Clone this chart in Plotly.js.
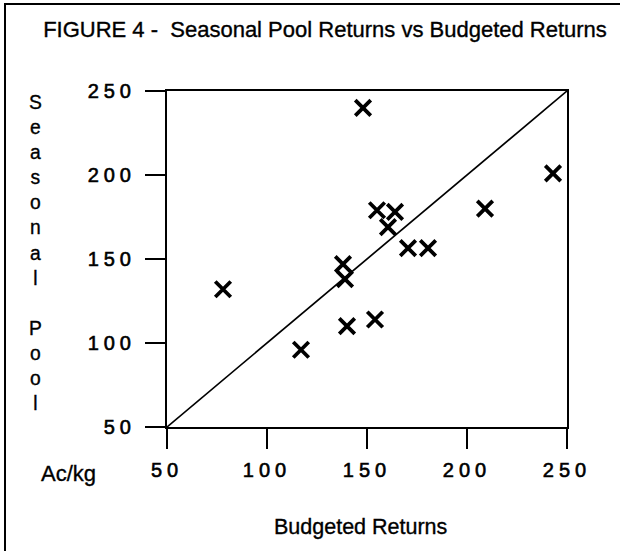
<!DOCTYPE html>
<html>
<head>
<meta charset="utf-8">
<script src="https://cdn.plot.ly/plotly-3.0.1.min.js"></script>
<style>
  html, body { margin: 0; padding: 0; background: #fff; }
  #wrap { position: relative; width: 620px; height: 551px; }
  #chart { width: 620px; height: 551px; }
  #frame { position: absolute; left: 4px; top: 3px; right: 0; bottom: 0;
           border-left: 2px solid #000; border-top: 2px solid #000; pointer-events: none; }
  .xtick text, .ytick text { letter-spacing: 5px; stroke: #000; stroke-width: 0.6px; }
  .gtitle, .annotation-text { stroke: #000; stroke-width: 0.35px; }
</style>
</head>
<body>
<div id="wrap">
  <div id="chart"></div>
  <div id="frame"></div>
</div>
<script>
// Budgeted returns (x) vs seasonal pool returns (y), c/kg
const budgeted = [148, 243, 209, 155, 164, 160.5, 170.5, 180.5, 138, 139, 78, 154, 140, 117];
const seasonal = [240, 201, 180, 179, 178, 169, 156.5, 156.5, 147, 138, 132, 114, 110, 96];
// 1:1 reference line
const refX = [50, 250];
const refY = [50, 250];
const tickVals = [50, 100, 150, 200, 250];
const tickText = ['50', '100', '150', '200', '250'];

const FONT = 'Liberation Sans, Arial, Helvetica, sans-serif';

const traces = [
  {
    x: refX, y: refY, type: 'scatter', mode: 'lines',
    line: { color: '#000', width: 1.7 }, hoverinfo: 'skip', showlegend: false
  },
  {
    x: budgeted, y: seasonal, type: 'scatter', mode: 'markers',
    marker: { symbol: 'x-thin-open', size: 15.5, color: '#000', line: { color: '#000', width: 3.8 } },
    showlegend: false
  }
];

const axisCommon = {
  range: [50, 250], tickmode: 'array', tickvals: tickVals, ticktext: tickText,
  showgrid: false, zeroline: false, showline: true, linecolor: '#000', linewidth: 2,
  mirror: true, ticks: 'outside', ticklen: 20, tickwidth: 2, tickcolor: '#000',
  tickfont: { family: FONT, size: 20, color: '#000' }, fixedrange: true
};

const layout = {
  width: 620, height: 551,
  margin: { l: 167, r: 53, t: 91, b: 124 },
  paper_bgcolor: '#fff', plot_bgcolor: '#fff',
  title: {
    text: 'FIGURE 4 -  Seasonal Pool Returns vs Budgeted Returns',
    font: { family: FONT, size: 22, color: '#000' },
    xref: 'container', yref: 'container', x: 325 / 620, y: 1 - 29 / 551,
    xanchor: 'center', yanchor: 'middle'
  },
  xaxis: Object.assign({}, axisCommon, { ticklabelstandoff: 4, ticklabelshift: 2.5 }),
  yaxis: Object.assign({}, axisCommon, { ticklabelstandoff: 5 }),
  annotations: [
    {
      text: 'Seasonal Pool'.split('').join('<br>'),
      xref: 'paper', yref: 'paper', x: (35 - 167) / 400, y: (427 - 90) / 336,
      xanchor: 'center', yanchor: 'top', showarrow: false, align: 'center',
      font: { family: FONT, size: 19.3, color: '#000' }
    },
    {
      text: 'Ac/kg', xref: 'paper', yref: 'paper',
      x: (68 - 167) / 400, y: (427 - 473) / 336, xanchor: 'center', yanchor: 'middle',
      showarrow: false, font: { family: FONT, size: 22, color: '#000' }
    },
    {
      text: 'Budgeted Returns', xref: 'paper', yref: 'paper',
      x: (360 - 167) / 400, y: (427 - 527) / 336, xanchor: 'center', yanchor: 'middle',
      showarrow: false, font: { family: FONT, size: 21.5, color: '#000' }
    }
  ]
};

Plotly.newPlot('chart', traces, layout, { displayModeBar: false, staticPlot: true });
</script>
</body>
</html>
